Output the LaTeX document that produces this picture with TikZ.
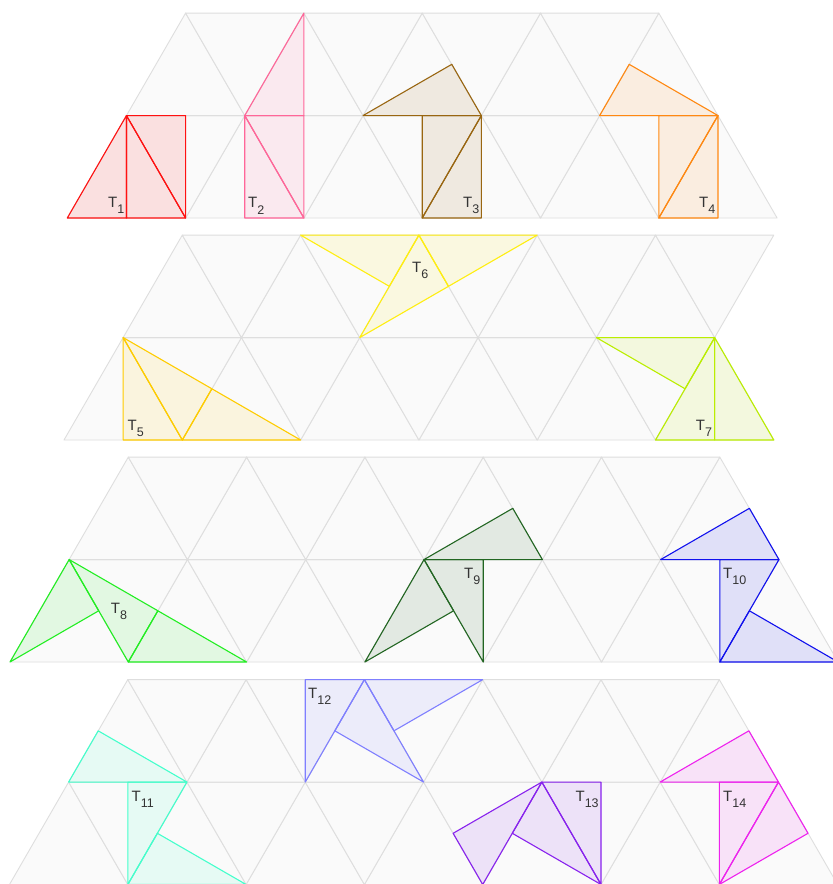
\documentclass[tikz,border=0pt]{standalone}
\usepackage{fontspec}
\setmainfont{Liberation Sans}
\definecolor{gridline}{HTML}{DEDEDE}
\definecolor{gridfill}{HTML}{FAFAFA}
\definecolor{labtext}{HTML}{333333}
\definecolor{ca}{HTML}{FF1111}
\definecolor{cb}{HTML}{FF6699}
\definecolor{cc}{HTML}{996611}
\definecolor{cd}{HTML}{FF8811}
\definecolor{ce}{HTML}{FFCC00}
\definecolor{cf}{HTML}{FFEE11}
\definecolor{cg}{HTML}{BBEE00}
\definecolor{ch}{HTML}{22EE22}
\definecolor{ci}{HTML}{226622}
\definecolor{cj}{HTML}{1111EE}
\definecolor{ck}{HTML}{44FFCC}
\definecolor{cl}{HTML}{7F7FFF}
\definecolor{cm}{HTML}{8822EE}
\definecolor{cn}{HTML}{EE22EE}
\newcommand\tlab[1]{T\raisebox{-6.5pt}{\fontsize{12.5}{13}\selectfont #1}}
\newcommand\drf[4]{\filldraw[#1] #2 -- #3 -- #4 -- cycle;}
\newcommand\gridband[4]{%
  \foreach \i in {0,...,#1} \filldraw[gridtri] (\i,0) -- (\i+1,0) -- (\i,1) -- cycle;
  \foreach \i in {0,...,#2} \filldraw[gridtri] (\i,1) -- (\i+1,1) -- (\i+1,0) -- cycle;
  \foreach \i in {0,...,#3} \filldraw[gridtri] (\i,1) -- (\i+1,1) -- (\i,2) -- cycle;
  \foreach \i in {0,...,#4} \filldraw[gridtri] (\i,2) -- (\i+1,2) -- (\i+1,1) -- cycle;
}
\begin{document}
\begin{tikzpicture}[x=1pt,y=-1pt,
  gridtri/.style={draw=gridline, fill=gridfill, line width=0.9pt, line join=round},
  piece/.style={draw=#1, fill=#1, fill opacity=0.11, line width=1.1pt, line join=round},
  lab/.style={anchor=base west, inner sep=0pt, text=labtext, font=\fontsize{15}{16}\selectfont},
  lattice/.style={x={(118.3pt,0pt)}, y={(59.15pt,102.45pt)}}]
\path[use as bounding box] (0,0) rectangle (833,884);
\clip (0,0) rectangle (833,884);
\fill[white] (0,0) rectangle (833,884);
% ---------- band 1 ----------
\begin{scope}[shift={(67.3,218)}]
\begin{scope}[lattice]
\gridband{5}{4}{4}{3}
\drf{piece=ca}{(0,0)}{(0.5,0)}{(0,1)}
\drf{piece=ca}{(0.5,0)}{(1,0)}{(0,1)}
\drf{piece=ca}{(0,1)}{(0.5,1)}{(1,0)}
\drf{piece=cb}{(1,1)}{(1.5,1)}{(1,2)}
\drf{piece=cb}{(1,1)}{(1.5,0)}{(2,0)}
\drf{piece=cb}{(1,1)}{(1.5,1)}{(2,0)}
\drf{piece=cc}{(2,1)}{(3,1)}{(2.5,1.5)}
\drf{piece=cc}{(2.5,1)}{(3,1)}{(3,0)}
\drf{piece=cc}{(3,1)}{(3,0)}{(3.5,0)}
\drf{piece=cd}{(4,1)}{(5,1)}{(4,1.5)}
\drf{piece=cd}{(4.5,1)}{(5,1)}{(5,0)}
\drf{piece=cd}{(5,1)}{(5,0)}{(5.5,0)}
\end{scope}
\end{scope}
\node[lab] (l1) at (108,207.3) {\tlab{1}};
\node[lab] (l2) at (248,207.8) {\tlab{2}};
\node[lab] (l3) at (463,207.3) {\tlab{3}};
\node[lab] (l4) at (699,207.3) {\tlab{4}};
% ---------- band 2 ----------
\begin{scope}[shift={(64,440)}]
\begin{scope}[lattice]
\gridband{5}{4}{4}{4}
\drf{piece=ce}{(0,1)}{(0.5,0)}{(1,0)}
\drf{piece=ce}{(0,1)}{(1,0)}{(1,0.5)}
\drf{piece=ce}{(1,0)}{(2,0)}{(1,0.5)}
\drf{piece=cf}{(1,2)}{(2,2)}{(2,1.5)}
\drf{piece=cf}{(2,1)}{(2,2)}{(2.5,1.5)}
\drf{piece=cf}{(2,2)}{(3,2)}{(2.5,1.5)}
\drf{piece=cg}{(4,1)}{(5,1)}{(5,0.5)}
\drf{piece=cg}{(5,0)}{(5.5,0)}{(5,1)}
\drf{piece=cg}{(5.5,0)}{(6,0)}{(5,1)}
\end{scope}
\end{scope}
\node[lab] (l5) at (127.4,430) {\tlab{5}};
\node[lab] (l6) at (412,272.3) {\tlab{6}};
\node[lab] (l7) at (695.7,430) {\tlab{7}};
% ---------- band 3 ----------
\begin{scope}[shift={(10,662)}]
\begin{scope}[lattice]
\gridband{6}{5}{5}{4}
\drf{piece=ch}{(0,0)}{(0,1)}{(0.5,0.5)}
\drf{piece=ch}{(0,1)}{(1,0)}{(1,0.5)}
\drf{piece=ch}{(1,0)}{(2,0)}{(1,0.5)}
\drf{piece=ci}{(3,1)}{(4,1)}{(3.5,1.5)}
\drf{piece=ci}{(3,1)}{(3.5,1)}{(4,0)}
\drf{piece=ci}{(3,0)}{(3,1)}{(3.5,0.5)}
\drf{piece=cj}{(5,1)}{(6,1)}{(5.5,1.5)}
\drf{piece=cj}{(5.5,1)}{(6,1)}{(6,0)}
\drf{piece=cj}{(6,0)}{(7,0)}{(6,0.5)}
\end{scope}
\end{scope}
\node[lab] (l8) at (110.7,613) {\tlab{8}};
\node[lab] (l9) at (464,578) {\tlab{9}};
\node[lab] (l10) at (723,578) {\tlab{10}};
% ---------- band 4 ----------
\begin{scope}[shift={(9.5,884.5)}]
\begin{scope}[lattice]
\gridband{6}{5}{5}{4}
\drf{piece=ck}{(0,1)}{(1,1)}{(0,1.5)}
\drf{piece=ck}{(0.5,1)}{(1,1)}{(1,0)}
\drf{piece=ck}{(1,0)}{(2,0)}{(1,0.5)}
\drf{piece=cl}{(1.5,2)}{(2,2)}{(2,1)}
\drf{piece=cl}{(3,1)}{(2,2)}{(2,1.5)}
\drf{piece=cl}{(2,2)}{(3,2)}{(2.5,1.5)}
\drf{piece=cm}{(4,1)}{(4.5,1)}{(5,0)}
\drf{piece=cm}{(4,1)}{(4,0.5)}{(5,0)}
\drf{piece=cm}{(4,1)}{(4,0)}{(3.5,0.5)}
\drf{piece=cn}{(5,1)}{(6,1)}{(5.5,1.5)}
\drf{piece=cn}{(5.5,1)}{(6,1)}{(6,0)}
\drf{piece=cn}{(6,0)}{(6,1)}{(6.5,0.5)}
\end{scope}
\end{scope}
\node[lab] (l11) at (131.4,801.3) {\tlab{11}};
\node[lab] (l12) at (308,698) {\tlab{12}};
\node[lab] (l13) at (575.4,801.3) {\tlab{13}};
\node[lab] (l14) at (723,801.3) {\tlab{14}};
\end{tikzpicture}
\end{document}
